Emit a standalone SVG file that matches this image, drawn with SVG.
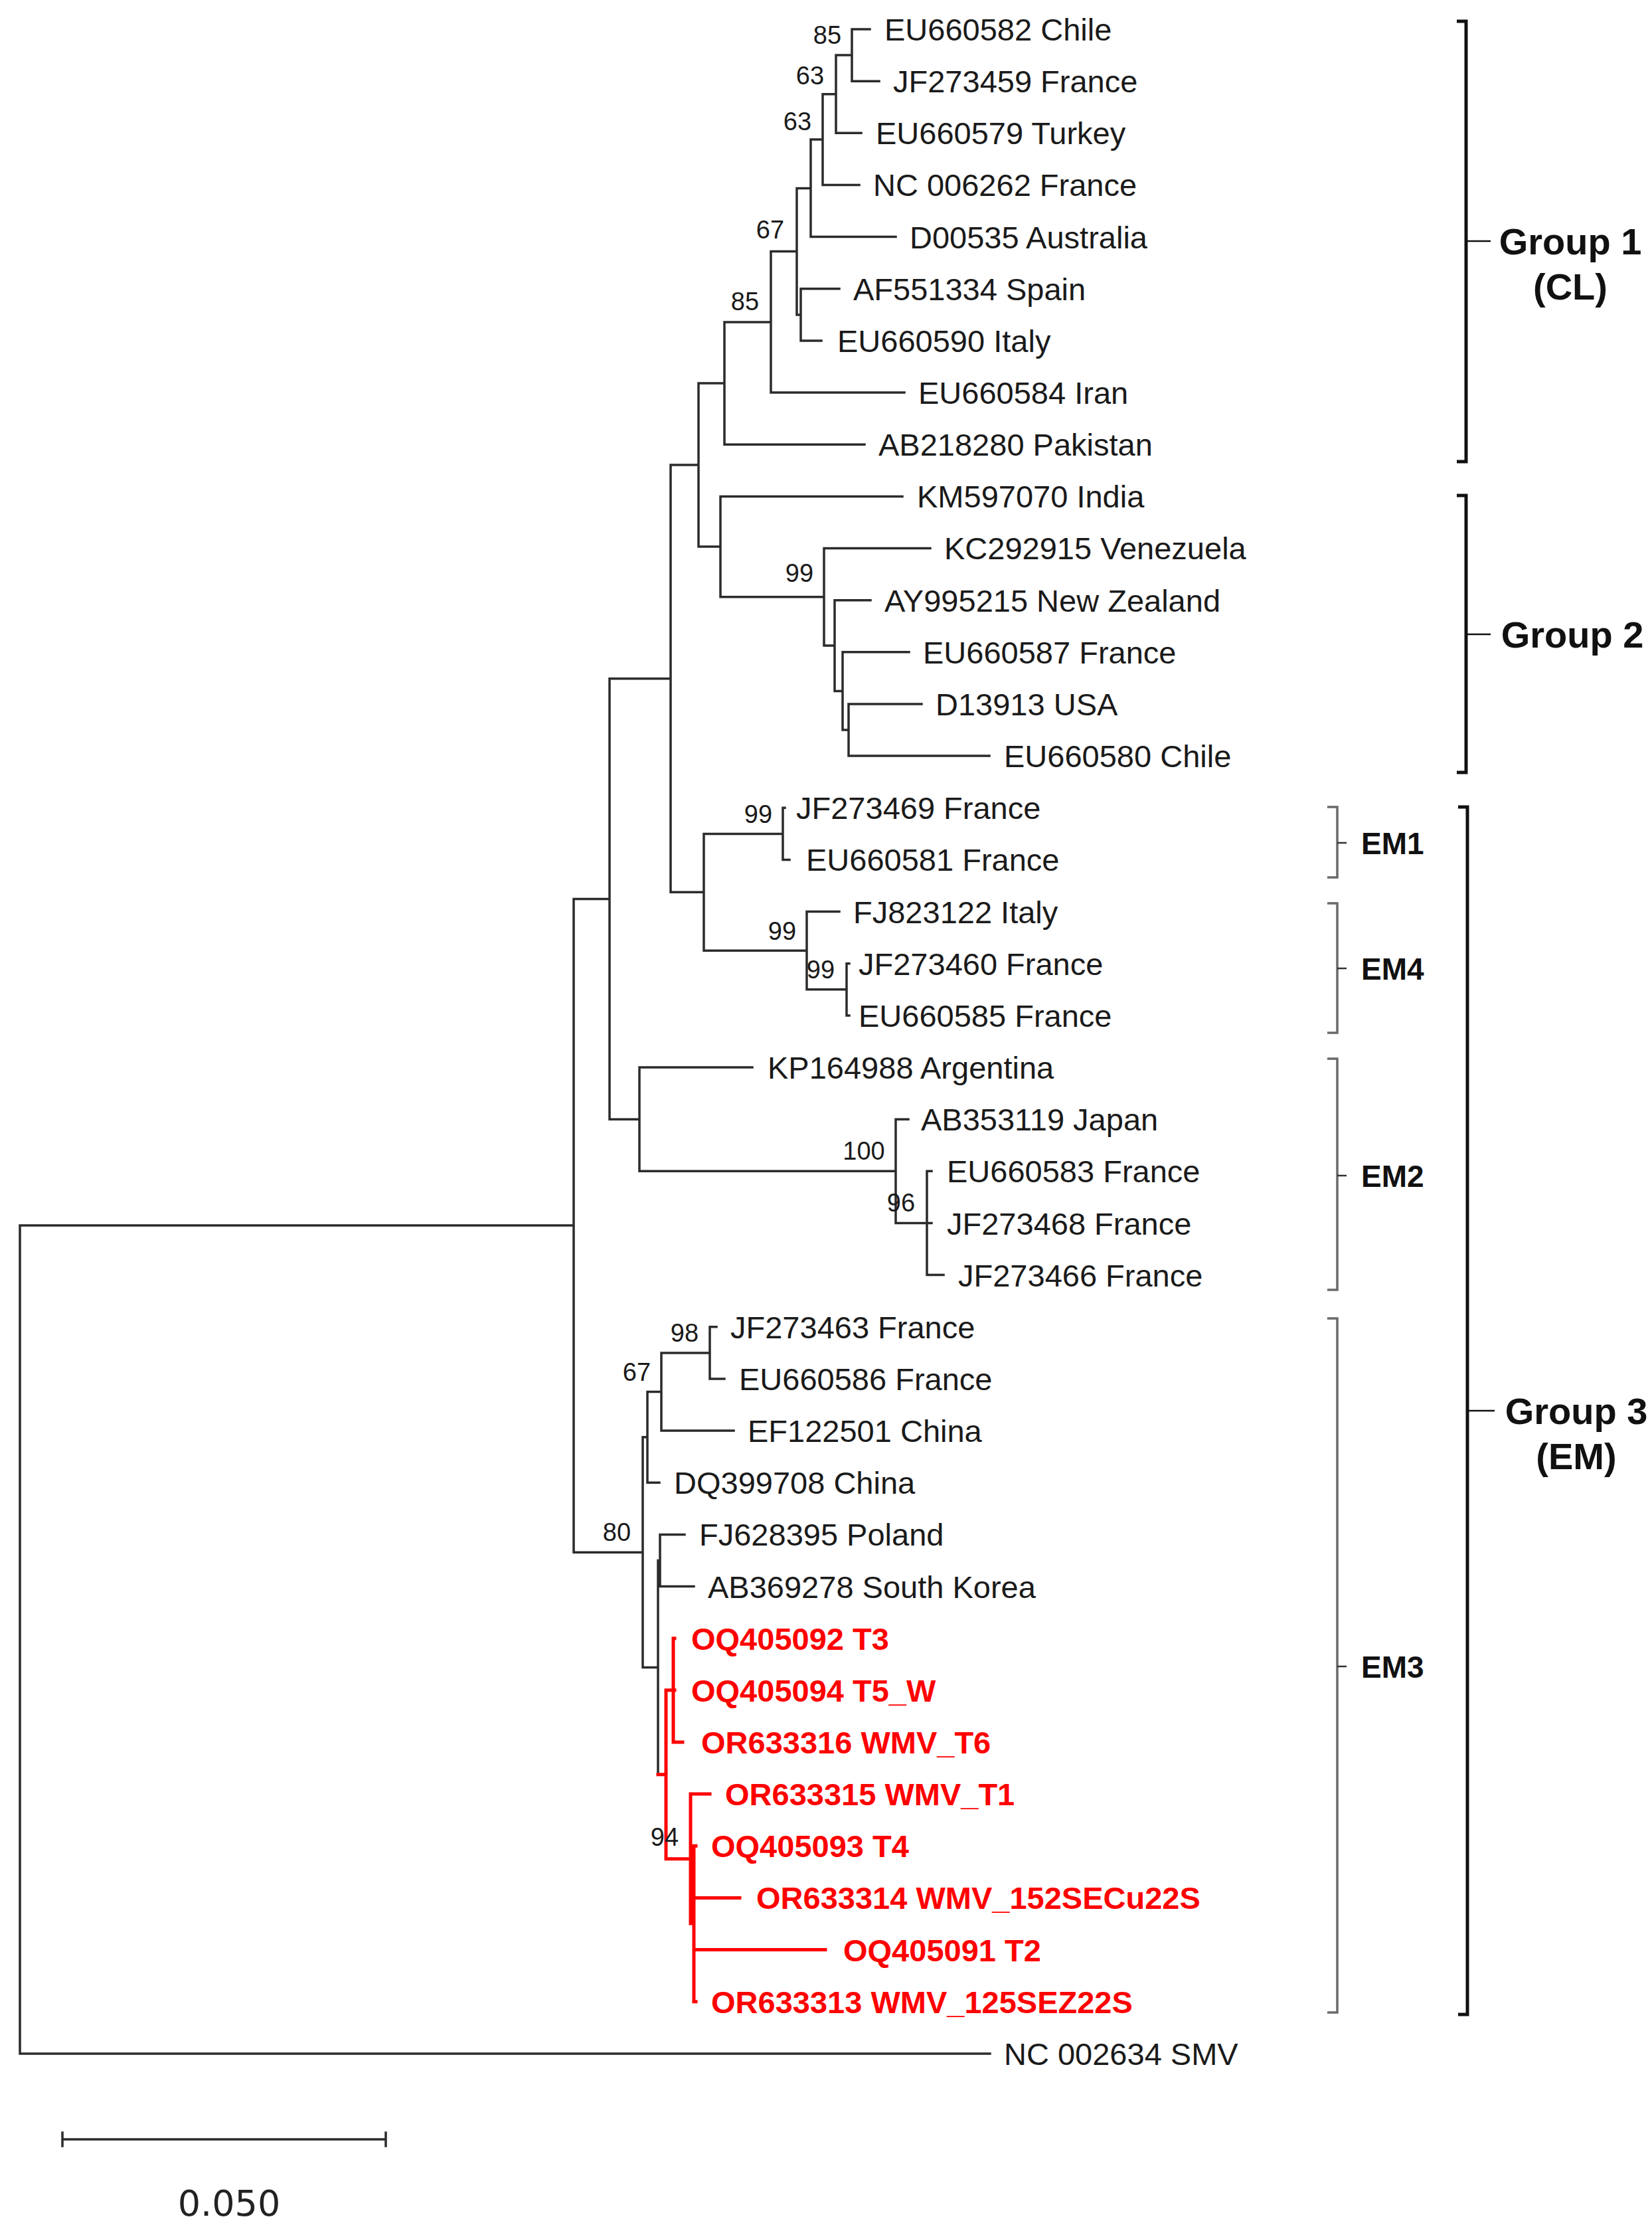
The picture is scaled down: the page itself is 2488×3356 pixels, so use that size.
<svg xmlns="http://www.w3.org/2000/svg" width="2488" height="3356" viewBox="0 0 2488 3356">
<style>
.br{fill:none;stroke:#2b2b2b;stroke-width:3.5;stroke-linecap:square}
.rb{fill:none;stroke:#ff0000;stroke-width:5;stroke-linecap:square}
.lf{font-family:"Liberation Sans",Arial,sans-serif;font-size:47px;fill:#1a1a1a}
.rl{font-family:"Liberation Sans",Arial,sans-serif;font-size:47px;font-weight:bold;fill:#ff0000}
.bs{font-family:"Liberation Sans",Arial,sans-serif;font-size:38px;fill:#1a1a1a;text-anchor:middle}
.gb{fill:none;stroke:#111;stroke-width:5}
.gt{fill:none;stroke:#111;stroke-width:2.5}
.eb{fill:none;stroke:#6a6a6a;stroke-width:3.5}
.et{fill:none;stroke:#333;stroke-width:2.5}
.gl{font-family:"Liberation Sans",Arial,sans-serif;font-size:56px;font-weight:bold;fill:#111}
.el{font-family:"Liberation Sans",Arial,sans-serif;font-size:46px;font-weight:bold;fill:#111}
.sc{font-family:"DejaVu Sans",Verdana,sans-serif;font-size:54px;fill:#222;text-anchor:middle}
</style>
<rect width="2488" height="3356" fill="#ffffff"/>
<g id="connectors">
<path class="br" d="M1283,44 V122.2 M1283,44 H1310 M1283,122.2 H1324
M1259,83.1 V200.3 M1259,83.1 H1283 M1259,200.3 H1297
M1239,141.7 V278.5 M1239,141.7 H1259 M1239,278.5 H1294
M1221,210.1 V356.6 M1221,210.1 H1239 M1221,356.6 H1349
M1206,434.8 V512.9 M1206,434.8 H1264 M1206,512.9 H1237
M1200,283.4 V473.9 M1200,283.4 H1221 M1200,473.9 H1206
M1161,378.6 V591.1 M1161,378.6 H1200 M1161,591.1 H1362
M1091,484.9 V669.2 M1091,484.9 H1161 M1091,669.2 H1302
M1278,1060 V1138.1 M1278,1060 H1388 M1278,1138.1 H1490
M1269,981.8 V1099 M1269,981.8 H1369 M1269,1099 H1278
M1257,903.7 V1040.4 M1257,903.7 H1311 M1257,1040.4 H1269
M1241,825.5 V972 M1241,825.5 H1401 M1241,972 H1257
M1085,747.4 V898.8 M1085,747.4 H1359 M1085,898.8 H1241
M1052,577 V823.1 M1052,577 H1091 M1052,823.1 H1085
M1179,1216.3 V1294.4 M1179,1216.3 H1182 M1179,1294.4 H1189
M1275,1450.7 V1528.9 M1275,1450.7 H1279 M1275,1528.9 H1279
M1215,1372.6 V1489.8 M1215,1372.6 H1264 M1215,1489.8 H1275
M1060,1255.4 V1431.2 M1060,1255.4 H1179 M1060,1431.2 H1215
M1010,700 V1343.3 M1010,700 H1052 M1010,1343.3 H1060
M1396,1763.3 V1919.6 M1396,1763.3 H1403 M1396,1841.5 H1403 M1396,1919.6 H1421
M1349,1685.2 V1841.5 M1349,1685.2 H1368 M1349,1841.5 H1396
M963,1607 V1763.3 M963,1607 H1133 M963,1763.3 H1349
M918,1021.7 V1685.2 M918,1021.7 H1010 M918,1685.2 H963
M1069,1997.8 V2075.9 M1069,1997.8 H1079 M1069,2075.9 H1091
M996,2036.9 V2154.1 M996,2036.9 H1069 M996,2154.1 H1105
M975,2095.5 V2232.2 M975,2095.5 H996 M975,2232.2 H993
M994,2310.4 V2388.5 M994,2310.4 H1031 M994,2388.5 H1045
M991,2349.5 V2671.8 M991,2349.5 H994
M968,2163.8 V2510.6 M968,2163.8 H975 M968,2510.6 H991
M864,1353.4 V2337.2 M864,1353.4 H918 M864,2337.2 H968
M30,1845 V3091.9 M30,1845 H864 M30,3091.9 H1491"/>
<path class="rb" d="M991,2671.8 H1003
M1003,2544.8 V2798.7 M1003,2544.8 H1014 M1003,2798.7 H1040
M1014,2466.7 V2623 M1014,2466.7 H1016 M1014,2544.8 H1016 M1014,2623 H1028
M1040,2701.1 V2896 M1040,2701.1 H1069 M1040,2896 H1045
M1045,2779.3 V3013.7 M1045,2779.3 H1048 M1045,2857.4 H1114 M1045,2935.6 H1243 M1045,3013.7 H1048"/>
</g>
<g id="bootstrap">
<text class="bs" x="1246" y="66">85</text>
<text class="bs" x="1220" y="127">63</text>
<text class="bs" x="1201" y="196">63</text>
<text class="bs" x="1160" y="359">67</text>
<text class="bs" x="1122" y="467">85</text>
<text class="bs" x="1204" y="876">99</text>
<text class="bs" x="1142" y="1239">99</text>
<text class="bs" x="1178" y="1415">99</text>
<text class="bs" x="1236" y="1473">99</text>
<text class="bs" x="1301" y="1746">100</text>
<text class="bs" x="1357" y="1824">96</text>
<text class="bs" x="1031" y="2020">98</text>
<text class="bs" x="959" y="2079">67</text>
<text class="bs" x="929" y="2320">80</text>
<text class="bs" x="1001" y="2779">94</text>
</g>
<g id="leaf-EU660582"><text class="lf" x="1332" y="61">EU660582 Chile</text></g>
<g id="leaf-JF273459"><text class="lf" x="1345" y="139">JF273459 France</text></g>
<g id="leaf-EU660579"><text class="lf" x="1319" y="217">EU660579 Turkey</text></g>
<g id="leaf-NC006262"><text class="lf" x="1315" y="295">NC 006262 France</text></g>
<g id="leaf-D00535"><text class="lf" x="1370" y="374">D00535 Australia</text></g>
<g id="leaf-AF551334"><text class="lf" x="1285" y="452">AF551334 Spain</text></g>
<g id="leaf-EU660590"><text class="lf" x="1261" y="530">EU660590 Italy</text></g>
<g id="leaf-EU660584"><text class="lf" x="1383" y="608">EU660584 Iran</text></g>
<g id="leaf-AB218280"><text class="lf" x="1323" y="686">AB218280 Pakistan</text></g>
<g id="leaf-KM597070"><text class="lf" x="1381" y="764">KM597070 India</text></g>
<g id="leaf-KC292915"><text class="lf" x="1422" y="842">KC292915 Venezuela</text></g>
<g id="leaf-AY995215"><text class="lf" x="1332" y="921">AY995215 New Zealand</text></g>
<g id="leaf-EU660587"><text class="lf" x="1390" y="999">EU660587 France</text></g>
<g id="leaf-D13913"><text class="lf" x="1409" y="1077">D13913 USA</text></g>
<g id="leaf-EU660580"><text class="lf" x="1512" y="1155">EU660580 Chile</text></g>
<g id="leaf-JF273469"><text class="lf" x="1199" y="1233">JF273469 France</text></g>
<g id="leaf-EU660581"><text class="lf" x="1214" y="1311">EU660581 France</text></g>
<g id="leaf-FJ823122"><text class="lf" x="1285" y="1390">FJ823122 Italy</text></g>
<g id="leaf-JF273460"><text class="lf" x="1293" y="1468">JF273460 France</text></g>
<g id="leaf-EU660585"><text class="lf" x="1293" y="1546">EU660585 France</text></g>
<g id="leaf-KP164988"><text class="lf" x="1156" y="1624">KP164988 Argentina</text></g>
<g id="leaf-AB353119"><text class="lf" x="1387" y="1702">AB353119 Japan</text></g>
<g id="leaf-EU660583"><text class="lf" x="1426" y="1780">EU660583 France</text></g>
<g id="leaf-JF273468"><text class="lf" x="1426" y="1859">JF273468 France</text></g>
<g id="leaf-JF273466"><text class="lf" x="1443" y="1937">JF273466 France</text></g>
<g id="leaf-JF273463"><text class="lf" x="1100" y="2015">JF273463 France</text></g>
<g id="leaf-EU660586"><text class="lf" x="1113" y="2093">EU660586 France</text></g>
<g id="leaf-EF122501"><text class="lf" x="1126" y="2171">EF122501 China</text></g>
<g id="leaf-DQ399708"><text class="lf" x="1015" y="2249">DQ399708 China</text></g>
<g id="leaf-FJ628395"><text class="lf" x="1053" y="2327">FJ628395 Poland</text></g>
<g id="leaf-AB369278"><text class="lf" x="1066" y="2406">AB369278 South Korea</text></g>
<g id="leaf-OQ405092"><text class="rl" x="1041" y="2484">OQ405092 T3</text></g>
<g id="leaf-OQ405094"><text class="rl" x="1041" y="2562">OQ405094 T5_W</text></g>
<g id="leaf-OR633316"><text class="rl" x="1056" y="2640">OR633316 WMV_T6</text></g>
<g id="leaf-OR633315"><text class="rl" x="1092" y="2718">OR633315 WMV_T1</text></g>
<g id="leaf-OQ405093"><text class="rl" x="1071" y="2796">OQ405093 T4</text></g>
<g id="leaf-OR633314"><text class="rl" x="1139" y="2874">OR633314 WMV_152SECu22S</text></g>
<g id="leaf-OQ405091"><text class="rl" x="1270" y="2953">OQ405091 T2</text></g>
<g id="leaf-OR633313"><text class="rl" x="1071" y="3031">OR633313 WMV_125SEZ22S</text></g>
<g id="leaf-NC002634"><text class="lf" x="1512" y="3109">NC 002634 SMV</text></g>
<g id="group1">
<path class="gb" d="M2194,32 H2208 V695 H2194"/><path class="gt" d="M2208,363 H2245"/>
<text class="gl" x="2365" y="383" text-anchor="middle">Group 1</text>
<text class="gl" x="2365" y="451" text-anchor="middle">(CL)</text>
</g>
<g id="group2">
<path class="gb" d="M2194,746 H2208 V1163 H2194"/><path class="gt" d="M2208,955 H2245"/>
<text class="gl" x="2368" y="975" text-anchor="middle">Group 2</text>
</g>
<g id="group3">
<path class="gb" d="M2196,1215 H2210 V3033 H2196"/><path class="gt" d="M2210,2124 H2251"/>
<text class="gl" x="2374" y="2144" text-anchor="middle">Group 3</text>
<text class="gl" x="2374" y="2212" text-anchor="middle">(EM)</text>
</g>
<g id="em1">
<path class="eb" d="M1999,1215 H2014 V1321 H1999"/><path class="et" d="M2014,1269 H2028"/>
<text class="el" x="2050" y="1286">EM1</text>
</g>
<g id="em4">
<path class="eb" d="M1999,1360 H2014 V1555 H1999"/><path class="et" d="M2014,1458 H2028"/>
<text class="el" x="2050" y="1475">EM4</text>
</g>
<g id="em2">
<path class="eb" d="M1999,1594 H2014 V1942 H1999"/><path class="et" d="M2014,1770 H2028"/>
<text class="el" x="2050" y="1787">EM2</text>
</g>
<g id="em3">
<path class="eb" d="M1999,1985 H2014 V3030 H1999"/><path class="et" d="M2014,2509 H2028"/>
<text class="el" x="2050" y="2526">EM3</text>
</g>
<g id="scalebar">
<path class="br" d="M94,3221 H581 M94,3211 V3231 M581,3211 V3231"/>
<text class="sc" x="345" y="3336">0.050</text>
</g>
</svg>
